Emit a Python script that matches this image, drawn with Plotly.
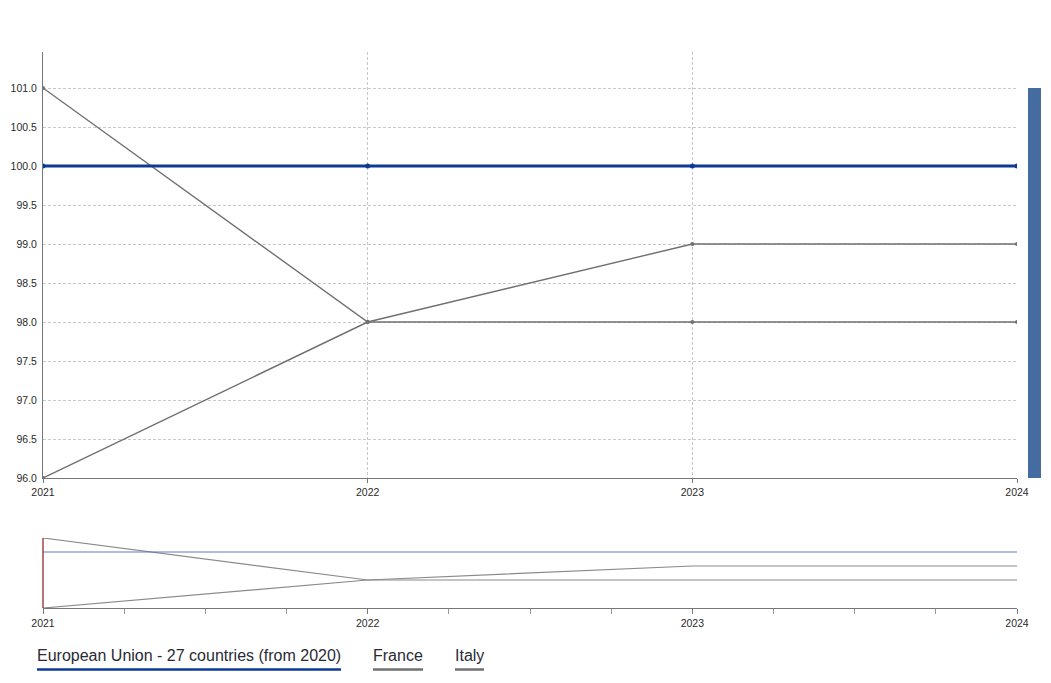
import plotly.graph_objects as go

years = [2021, 2022, 2023, 2024]
eu_values = [100.0, 100.0, 100.0, 100.0]
france_values = [101.0, 98.0, 98.0, 98.0]
italy_values = [96.0, 98.0, 99.0, 99.0]
series_names = ["European Union - 27 countries (from 2020)", "France", "Italy"]
y_ticks = [96.0, 96.5, 97.0, 97.5, 98.0, 98.5, 99.0, 99.5, 100.0, 100.5, 101.0]

EU_C = "#0d3a94"
GRAY = "#707070"
MINI_BLUE = "#5a7cc6"
MINI_GRAY = "#8a8a8a"

OFF = 8  # page body margin
fig = go.Figure()

# main chart
for name, vals, col, w in [(series_names[1], france_values, GRAY, 1.4),
                           (series_names[2], italy_values, GRAY, 1.4),
                           (series_names[0], eu_values, EU_C, 2.8)]:
    fig.add_trace(go.Scatter(x=years, y=vals, name=name, mode="lines+markers",
                             line=dict(color=col, width=w),
                             marker=dict(size=5 if col == EU_C else 4, color=col),
                             xaxis="x", yaxis="y", showlegend=False))

# mini navigator chart
for vals, col in [(france_values, MINI_GRAY), (italy_values, MINI_GRAY), (eu_values, MINI_BLUE)]:
    fig.add_trace(go.Scatter(x=years, y=vals, mode="lines",
                             line=dict(color=col, width=1.2),
                             xaxis="x2", yaxis="y2", showlegend=False, hoverinfo="skip"))

H_AREA = 556.0
W_AREA = 974.0
main_bottom = (608 - 478) / H_AREA
mini_top = (608 - 538) / H_AREA

tick_font = dict(family="Liberation Sans, Arial, sans-serif", size=10.5, color="#2a2a2a")
GRID = "#c8c8c8"
DASH = "3px,2px"

fig.update_layout(
    width=1051 - 2 * OFF, height=683 - 2 * OFF,
    margin=dict(l=43 - OFF, r=1051 - OFF - 1017, t=52 - OFF, b=683 - OFF - 608,
                autoexpand=False),
    paper_bgcolor="white", plot_bgcolor="white",
    font=dict(family="Liberation Sans, Arial, sans-serif"),
    xaxis=dict(domain=[0, 1], anchor="y", range=[2021, 2024], tickvals=years,
               ticktext=[str(y) for y in years], tickfont=tick_font, automargin=False,
               showgrid=True, gridcolor=GRID, griddash=DASH, gridwidth=1,
               showline=True, linecolor="#777", linewidth=1,
               ticks="outside", ticklen=4, tickcolor="#777", zeroline=False),
    yaxis=dict(domain=[main_bottom, 1], anchor="x", range=[96, 101.4615],
               tickvals=y_ticks, ticktext=[f"{v:.1f}" for v in y_ticks],
               tickfont=tick_font, automargin=False, ticklabelstandoff=3,
               showgrid=True, gridcolor=GRID, griddash=DASH, gridwidth=1,
               showline=True, linecolor="#777", linewidth=1,
               ticks="", zeroline=False),
    xaxis2=dict(domain=[0, 1], anchor="y2", range=[2021, 2024], tickvals=years,
                ticktext=[str(y) for y in years], tickfont=tick_font, automargin=False,
                showgrid=False, showline=True, linecolor="#777", linewidth=1,
                ticks="outside", ticklen=5, tickcolor="#777", zeroline=False,
                minor=dict(dtick=0.25, ticks="outside", ticklen=5, tickcolor="#999", showgrid=False)),
    yaxis2=dict(domain=[0, mini_top], anchor="x2", range=[96, 101], automargin=False,
                showticklabels=False, showgrid=False, showline=False, zeroline=False, ticks=""),
    showlegend=False,
)

# navigator left handle
fig.add_shape(type="line", xref="x2 domain", yref="y2 domain", x0=0, x1=0, y0=0, y1=1,
              line=dict(color="#8b1a1a", width=1.2))

# right-hand scroll bar
fig.add_shape(type="rect", xref="paper", yref="paper",
              x0=(1028 - 43) / W_AREA, x1=(1041 - 43) / W_AREA,
              y0=(608 - 478) / H_AREA, y1=(608 - 88) / H_AREA,
              fillcolor="#456ca1", line=dict(width=0))

# custom legend: text with underline
legend_items = [(series_names[0], EU_C, 37, 341), (series_names[1], GRAY, 373, 423),
                (series_names[2], GRAY, 455, 484)]
for text, col, xl, xr in legend_items:
    fig.add_annotation(text=text, xref="paper", yref="paper",
                       x=(xl - 45) / W_AREA, y=(608 - 655.5) / H_AREA,
                       xanchor="left", yanchor="middle", showarrow=False,
                       font=dict(size=16, color="#2a2a35",
                                 family="Liberation Sans, Arial, sans-serif"))
    fig.add_shape(type="line", xref="paper", yref="paper",
                  x0=(xl - 43) / W_AREA, x1=(xr - 43) / W_AREA,
                  y0=(608 - 669.5) / H_AREA, y1=(608 - 669.5) / H_AREA,
                  line=dict(color=col, width=2.5))

fig.write_html("out.html")
